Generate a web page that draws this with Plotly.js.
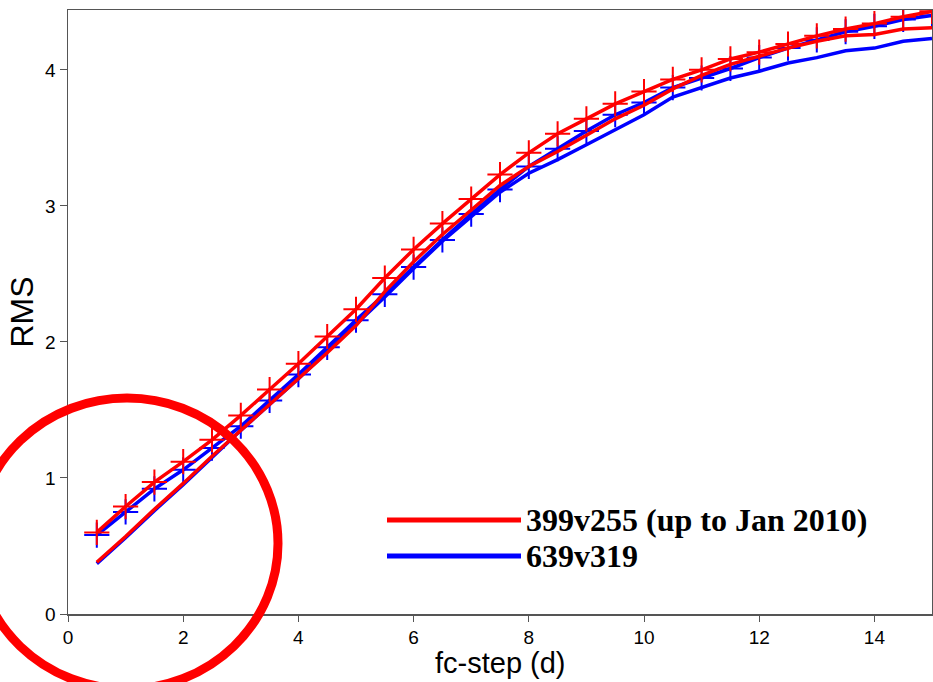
<!DOCTYPE html>
<html>
<head>
<meta charset="utf-8">
<script src="https://cdn.plot.ly/plotly-3.0.1.min.js"></script>
<style>html,body{margin:0;padding:0;background:#fff;}#chart{width:933px;height:682px;}</style>
</head>
<body>
<div id="chart"></div>
<script>
const steps = [0.5,1,1.5,2,2.5,3,3.5,4,4.5,5,5.5,6,6.5,7,7.5,8,8.5,9,9.5,10,10.5,11,11.5,12,12.5,13,13.5,14,14.5,15];
const red_marked = [0.60,0.79,0.97,1.12,1.28,1.46,1.65,1.84,2.04,2.24,2.47,2.68,2.87,3.05,3.23,3.39,3.53,3.64,3.75,3.84,3.93,4.00,4.08,4.13,4.19,4.25,4.30,4.34,4.39,4.43];
const blue_marked = [0.58,0.75,0.92,1.06,1.22,1.38,1.57,1.76,1.96,2.16,2.35,2.55,2.75,2.94,3.12,3.29,3.42,3.55,3.67,3.76,3.87,3.94,4.01,4.09,4.16,4.22,4.28,4.32,4.37,4.40];
const red_plain = [0.38,0.57,0.77,0.96,1.16,1.35,1.54,1.73,1.92,2.12,2.37,2.59,2.79,2.97,3.15,3.29,3.40,3.52,3.64,3.74,3.86,3.96,4.04,4.10,4.16,4.21,4.25,4.26,4.30,4.31];
const blue_plain = [0.37,0.56,0.76,0.95,1.15,1.35,1.54,1.73,1.93,2.13,2.33,2.54,2.74,2.92,3.10,3.24,3.34,3.45,3.56,3.67,3.80,3.87,3.94,3.99,4.05,4.09,4.14,4.16,4.21,4.23];
const legendNames = ["399v255 (up to Jan 2010)", "639v319"];
const xTitle = "fc-step (d)";
const RED = "#ff0000", BLUE = "#0000ff";

const traces = [
  {x: steps, y: blue_plain, mode: "lines", line: {color: BLUE, width: 3.5}},
  {x: steps, y: blue_marked, mode: "lines+markers", line: {color: BLUE, width: 3.5},
   marker: {symbol: "cross-thin-open", size: 18, line: {color: BLUE, width: 2}}},
  {x: steps, y: red_plain, mode: "lines", line: {color: RED, width: 3.5}},
  {x: steps, y: red_marked, mode: "lines+markers", line: {color: RED, width: 3.5},
   marker: {symbol: "cross-thin-open", size: 18, line: {color: RED, width: 2}}}
];

// plot area: x 68..932, y 10..614
const L = 68, R = 932, T = 10, B = 614;
const W = R - L, H = B - T;
const px = v => (v - L) / W;
const py = v => (B - v) / H;

const layout = {
  width: 933, height: 682,
  margin: {l: L, r: 933 - R, t: T, b: 682 - B, pad: 0},
  paper_bgcolor: "#fff", plot_bgcolor: "#fff",
  showlegend: false,
  font: {family: "Liberation Sans, Arial, sans-serif", color: "#000", size: 19},
  xaxis: {
    range: [0, 15], tickvals: [0,2,4,6,8,10,12,14], ticktext: ["0","2","4","6","8","10","12","14"],
    showgrid: false, zeroline: false, showline: true, linecolor: "#555", linewidth: 1.5, mirror: true,
    ticks: "outside", ticklen: 6, tickcolor: "#555", tickfont: {size: 19}
  },
  yaxis: {
    range: [0, 4.44], tickvals: [0,1,2,3,4], ticktext: ["0","1","2","3","4"],
    showgrid: false, zeroline: false, showline: true, linecolor: "#555", linewidth: 1.5, mirror: true,
    ticks: "outside", ticklen: 7, tickcolor: "#555", tickfont: {size: 19},
    title: {text: "RMS", font: {size: 32}, standoff: 2}
  },
  shapes: [
    {type: "line", xref: "paper", yref: "paper", x0: px(387), x1: px(521), y0: py(520), y1: py(520),
     line: {color: RED, width: 5}},
    {type: "line", xref: "paper", yref: "paper", x0: px(387), x1: px(521), y0: py(556), y1: py(556),
     line: {color: BLUE, width: 5}},
    {type: "circle", xref: "paper", yref: "paper", layer: "above",
     x0: px(127 - 151), x1: px(278), y0: py(543 + 146), y1: py(398),
     line: {color: RED, width: 9}}
  ],
  annotations: [
    {xref: "paper", yref: "paper", x: px(524), y: py(520), xanchor: "left", yanchor: "middle",
     text: "<b>" + legendNames[0] + "</b>", showarrow: false,
     font: {family: "Liberation Serif, Times New Roman, serif", size: 32, color: "#000"}},
    {xref: "paper", yref: "paper", x: px(524), y: py(556), xanchor: "left", yanchor: "middle",
     text: "<b>" + legendNames[1] + "</b>", showarrow: false,
     font: {family: "Liberation Serif, Times New Roman, serif", size: 32, color: "#000"}},
    {xref: "paper", yref: "paper", x: px(500), y: py(663), xanchor: "center", yanchor: "middle",
     text: xTitle, showarrow: false, font: {size: 29, color: "#000"}}
  ]
};

Plotly.newPlot("chart", traces, layout, {staticPlot: true, displayModeBar: false});
</script>
</body>
</html>
